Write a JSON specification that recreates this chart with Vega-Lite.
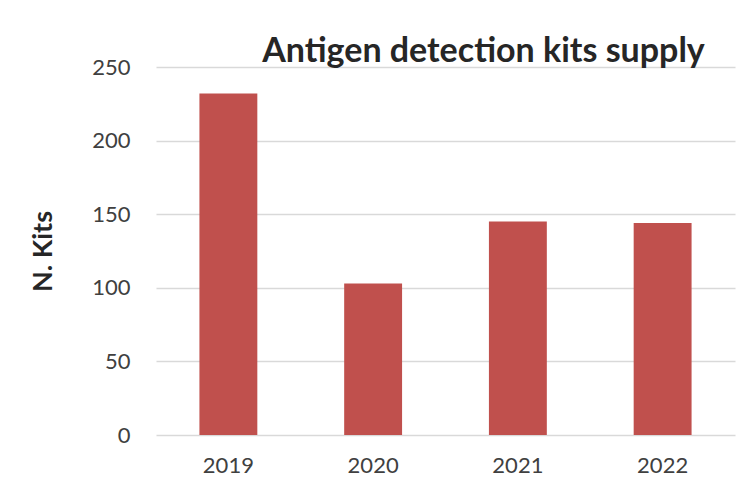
{
  "$schema": "https://vega.github.io/schema/vega-lite/v6.json",
  "autosize": "none",
  "width": 579,
  "height": 368,
  "padding": {"left": 156, "top": 67, "right": 19, "bottom": 53},
  "background": "white",
  "title": {
    "text": "Antigen detection kits supply",
    "font": "Lato",
    "fontSize": 34,
    "fontWeight": "bold",
    "color": "#262626",
    "anchor": "middle",
    "dx": 38,
    "dy": 48,
    "offset": 8,
    "baseline": "alphabetic"
  },
  "data": {
    "values": [
      {"year": "2019", "kits": 232},
      {"year": "2020", "kits": 103},
      {"year": "2021", "kits": 145},
      {"year": "2022", "kits": 144}
    ]
  },
  "mark": {"type": "bar", "color": "#C0504D"},
  "encoding": {
    "x": {
      "field": "year",
      "type": "nominal",
      "scale": {"paddingInner": 0.6, "paddingOuter": 0.3},
      "axis": {
        "title": null,
        "labelAngle": 0,
        "labelFont": "Lato",
        "labelFontSize": 22,
        "labelColor": "#404040",
        "labelPadding": 20,
        "ticks": false,
        "domain": false
      }
    },
    "y": {
      "field": "kits",
      "type": "quantitative",
      "scale": {"domain": [0, 250]},
      "axis": {
        "title": "N. Kits",
        "titleFont": "Lato",
        "titleFontSize": 27,
        "titleFontWeight": "bold",
        "titleColor": "#262626",
        "titlePadding": 34,
        "labelFont": "Lato",
        "labelFontSize": 22,
        "labelColor": "#404040",
        "labelPadding": 26,
        "values": [0, 50, 100, 150, 200, 250],
        "ticks": false,
        "domain": false,
        "grid": true,
        "gridColor": "#D9D9D9",
        "gridWidth": 1.5
      }
    }
  },
  "config": {"view": {"stroke": null}}
}
